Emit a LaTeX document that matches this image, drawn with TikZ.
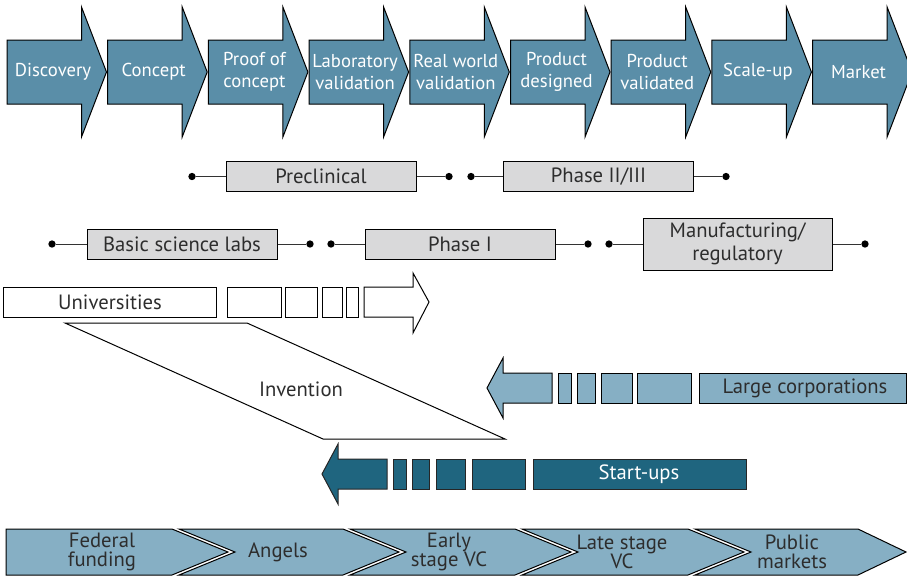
\documentclass[tikz,border=0pt]{standalone}
\usepackage{fontspec}
\setmainfont{PT Sans}
\definecolor{stageblue}{RGB}{90,142,168}
\definecolor{paleblue}{RGB}{134,175,196}
\definecolor{deepteal}{RGB}{31,101,127}
\definecolor{boxgray}{RGB}{217,217,218}
\definecolor{inkgray}{RGB}{45,45,45}
\begin{document}
\begin{tikzpicture}[x=0.75pt,y=-0.75pt,
  every node/.style={font=\fontsize{15.5}{17.25}\selectfont, align=center, inner sep=0pt},
  stagetext/.style={text=white, font=\fontsize{14}{16.5}\selectfont},
  outl/.style={draw=black, line width=0.75pt, line join=miter},
  stagearrow/.style={outl, fill=stageblue},
  graybox/.style={outl, fill=boxgray, text=inkgray, minimum width=142.5pt, minimum height=23pt},
  dot/.style={circle, fill=black, inner sep=0pt, minimum size=5.5pt},
  link/.style={draw=black!80, line width=0.75pt},
  whitebox/.style={outl, fill=white},
  corpbox/.style={outl, fill=paleblue},
  startbox/.style={outl, draw=black!85, fill=deepteal},
  chev/.style={outl, fill=paleblue},
  chevtext/.style={text=inkgray, font=\fontsize{15.5}{14.5}\selectfont}]
\clip (0,0) rectangle (907,576);

% development stages along the top
\foreach \lab [count=\k from 0] in {Discovery, Concept, {Proof of\\concept},
    {Laboratory\\validation}, {Real world\\validation}, {Product\\designed},
    {Product\\validated}, Scale-up, Market} {
  \pgfmathsetmacro\xo{7+100.7*\k}
  \draw[stagearrow] (\xo,40) -- (\xo+74.5,40) -- (\xo+74.5,7) -- (\xo+99.5,72)
     -- (\xo+74.5,137) -- (\xo+74.5,104) -- (\xo,104) -- cycle;
  \node[stagetext] (stage\k) at (\xo+46,72) {\lab};
}

% clinical / development phases
\node[graybox] (precl) at (321,176.5) {Preclinical};
\node[graybox] (ph23) at (598.5,176.5) {Phase II/III};
\node[graybox, minimum height=22.5pt] (basic) at (182,244) {Basic science labs};
\node[graybox, minimum height=22.5pt] (ph1) at (460,244) {Phase I};
\node[graybox, minimum width=141.75pt, minimum height=39pt] (manuf) at (737.5,244) {Manufacturing/\\regulatory};

\node[dot] (pa) at (192,176.5) {};
\node[dot] (pb) at (449,176.5) {};
\node[dot] (pc) at (471,176.5) {};
\node[dot] (pd) at (726,176.5) {};
\node[dot] (ba) at (52,244) {};
\node[dot] (bb) at (310,244) {};
\node[dot] (bc) at (331,244) {};
\node[dot] (bd) at (588,244) {};
\node[dot] (be) at (609,244) {};
\node[dot] (bf) at (865,244) {};

\draw[link] (pa) -- (precl);
\draw[link] (precl) -- (pb);
\draw[link] (pc) -- (ph23);
\draw[link] (ph23) -- (pd);
\draw[link] (ba) -- (basic);
\draw[link] (basic) -- (bb);
\draw[link] (bc) -- (ph1);
\draw[link] (ph1) -- (bd);
\draw[link] (be) -- (manuf);
\draw[link] (manuf) -- (bf);

% universities
\draw[whitebox] (3,287) rectangle (216,317);
\node[text=inkgray] (univ) at (110,302) {Universities};
\draw[whitebox] (227,287) rectangle (281,317);
\draw[whitebox] (285,287) rectangle (317,317);
\draw[whitebox] (322,287) rectangle (342,317);
\draw[whitebox] (346,287) rectangle (358,317);
\draw[whitebox] (364,287) -- (413,287) -- (413,273) -- (429,302) -- (413,333)
   -- (413,317) -- (364,317) -- cycle;

% invention
\draw[whitebox] (65,323) -- (247,323) -- (505,439) -- (323,439) -- cycle;
\node[text=inkgray] (inv) at (301,389) {Invention};

% large corporations
\draw[corpbox] (552,373) -- (503,373) -- (503,358) -- (487,388) -- (503,418)
   -- (503,403) -- (552,403) -- cycle;
\draw[corpbox] (558,373) rectangle (571,403);
\draw[corpbox] (577,373) rectangle (595,403);
\draw[corpbox] (601,373) rectangle (632,403);
\draw[corpbox] (637,373) rectangle (691,403);
\draw[corpbox] (699,373) rectangle (906,403);
\node[text=inkgray] (corp) at (805,388) {Large corporations};

% start-ups
\draw[startbox] (387,459) -- (338,459) -- (338,444) -- (322,474) -- (338,504)
   -- (338,489) -- (387,489) -- cycle;
\draw[startbox] (393,459) rectangle (406,489);
\draw[startbox] (412,459) rectangle (429,489);
\draw[startbox] (436,459) rectangle (465,489);
\draw[startbox] (472,459) rectangle (525,489);
\draw[startbox] (533,459) rectangle (746,489);
\node[text=white] (startup) at (639,474) {Start-ups};

% funding stages
\draw[chev] (6,529) -- (172,529) -- (228,552) -- (172,575) -- (6,575) -- cycle;
\draw[chev] (179,529) -- (343,529) -- (399,552) -- (343,575) -- (179,575) -- (235,552) -- cycle;
\draw[chev] (350,529) -- (515,529) -- (571,552) -- (515,575) -- (350,575) -- (406,552) -- cycle;
\draw[chev] (522,529) -- (688,529) -- (744,552) -- (688,575) -- (522,575) -- (578,552) -- cycle;
\draw[chev] (695,529) -- (858,529) -- (906,552) -- (858,575) -- (695,575) -- (751,552) -- cycle;
\node[chevtext] (fed) at (102,552) {Federal\\funding};
\node[chevtext] (ang) at (278,552) {Angels};
\node[chevtext] (evc) at (449,552) {Early\\stage VC};
\node[chevtext] (lvc) at (622,552) {Late stage\\VC};
\node[chevtext] (pub) at (792,552) {Public\\markets};
\end{tikzpicture}
\end{document}
